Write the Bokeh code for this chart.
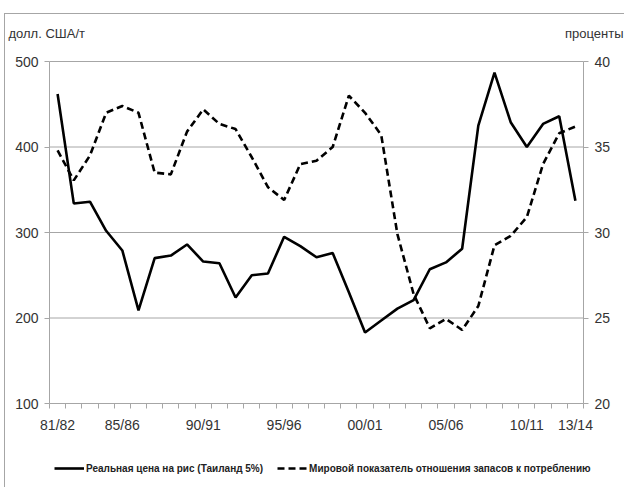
from bokeh.plotting import figure
from bokeh.models import Range1d, LinearAxis, FixedTicker, Label, Legend, LegendItem
from bokeh.embed import file_html
from bokeh.resources import INLINE

seasons = ["81/82", "82/83", "83/84", "84/85", "85/86", "86/87", "87/88", "88/89",
           "89/90", "90/91", "91/92", "92/93", "93/94", "94/95", "95/96", "96/97",
           "97/98", "98/99", "99/00", "00/01", "01/02", "02/03", "03/04", "04/05",
           "05/06", "06/07", "07/08", "08/09", "09/10", "10/11", "11/12", "12/13", "13/14"]
labelled = ["81/82", "85/86", "90/91", "95/96", "00/01", "05/06", "10/11", "13/14"]
price = [462, 334, 336, 302, 279, 209, 270, 273, 286, 266, 264, 224, 250, 252, 295, 284,
         271, 276, 230, 183, 197, 211, 221, 257, 265, 281, 425, 487, 429, 400, 427, 436, 337]
stocks = [34.8, 33.05, 34.5, 37.0, 37.4, 37.0, 33.5, 33.4, 35.9, 37.2, 36.35, 36.05, 34.4,
          32.65, 31.9, 34.0, 34.2, 35.0, 38.0, 37.0, 35.7, 29.9, 26.4, 24.4, 24.95, 24.3,
          25.7, 29.25, 29.8, 30.9, 34.0, 35.8, 36.2]
left_ticks = [100, 200, 300, 400, 500]
right_ticks = [20, 25, 30, 35, 40]
name_price = "Реальная цена на рис (Таиланд 5%)"
name_stocks = "Мировой показатель отношения запасов к потреблению"
unit_left = "долл. США/т"
unit_right = "проценты"

FONT = "Liberation Sans"
GRAY = "#a6a6a6"
TXT = "#333333"

# canvas geometry (pixels) and plot box inside the canvas
W, H = 620, 474
BOX_L, BOX_R, BOX_T, BOX_B = 44, 578, 47, 389

n = len(seasons)
xs = list(range(n))
x0, x1 = -0.5, n - 0.5
ppx = (BOX_R - BOX_L) / (x1 - x0)
y0, y1 = left_ticks[0], left_ticks[-1]
ppy = (BOX_B - BOX_T) / (y1 - y0)
r0, r1 = right_ticks[0], right_ticks[-1]
ppr = (BOX_B - BOX_T) / (r1 - r0)

p = figure(width=W, height=H, output_backend="svg", toolbar_location=None,
           x_range=Range1d(x0 - BOX_L / ppx, x1 + (W - BOX_R) / ppx),
           y_range=Range1d(y0 - (H - BOX_B) / ppy, y1 + BOX_T / ppy),
           min_border_left=0, min_border_right=0, min_border_top=0, min_border_bottom=0)
p.styles = {"margin-left": "4px", "margin-top": "13px",
            "border-left": "1px solid #a6a6a6", "border-top": "1px solid #a6a6a6"}
p.outline_line_color = None
p.background_fill_color = "white"
p.border_fill_color = "white"
p.extra_y_ranges = {"pct": Range1d(r0 - (H - BOX_B) / ppr, r1 + BOX_T / ppr)}
p.xgrid.visible = False
p.ygrid.visible = False

# horizontal gridlines at the left-axis ticks, across the plot box
p.segment(x0=[x0] * (len(left_ticks) - 1), x1=[x1] * (len(left_ticks) - 1),
          y0=left_ticks[1:], y1=left_ticks[1:], line_color=GRAY, line_width=1,
          level="underlay")

# x axis: labels at selected seasons, minor ticks at category boundaries
idx = [seasons.index(s) for s in labelled]
xa = p.xaxis[0]
xa.fixed_location = y0
xa.bounds = (x0, x1)
xa.ticker = FixedTicker(ticks=idx, minor_ticks=[i - 0.5 for i in range(n + 1)])
xa.major_label_overrides = {i: seasons[i] for i in idx}
xa.major_tick_out = 0
xa.major_tick_in = 0
xa.minor_tick_out = 5
xa.minor_tick_in = 0
xa.minor_tick_line_color = GRAY
xa.axis_line_color = GRAY
xa.major_label_standoff = 8
xa.major_label_text_font = FONT
xa.major_label_text_font_size = "14px"
xa.major_label_text_color = TXT

ya = p.yaxis[0]
ya.fixed_location = x0
ya.bounds = (y0, y1)
ya.ticker = FixedTicker(ticks=left_ticks)
ya.minor_tick_line_color = None
ya.major_tick_out = 5
ya.major_tick_in = 0
ya.major_tick_line_color = GRAY
ya.axis_line_color = GRAY
ya.major_label_standoff = 6
ya.major_label_text_font = FONT
ya.major_label_text_font_size = "14px"
ya.major_label_text_color = TXT

ra = LinearAxis(y_range_name="pct", ticker=FixedTicker(ticks=right_ticks),
                fixed_location=x1, bounds=(r0, r1))
ra.minor_tick_line_color = None
ra.major_tick_out = 5
ra.major_tick_in = 0
ra.major_tick_line_color = GRAY
ra.axis_line_color = GRAY
ra.major_label_standoff = 6
ra.major_label_text_font = FONT
ra.major_label_text_font_size = "14px"
ra.major_label_text_color = TXT
p.add_layout(ra, "right")

r_price = p.line(xs, price, line_color="black", line_width=2.6)
r_stocks = p.line(xs, stocks, y_range_name="pct", line_color="black", line_width=2.6,
                  line_dash="7 4")

p.add_layout(Label(x=x0, y=y1, x_offset=3 - BOX_L, y_offset=BOX_T - 19, text=unit_left,
                   text_font=FONT, text_font_size="13px", text_color=TXT,
                   text_baseline="middle", text_align="left"))
p.add_layout(Label(x=x1, y=y1, x_offset=W - 2 - BOX_R, y_offset=BOX_T - 19, text=unit_right,
                   text_font=FONT, text_font_size="13px", text_color=TXT,
                   text_baseline="middle", text_align="right"))

legend = Legend(items=[LegendItem(label=name_price, renderers=[r_price]),
                       LegendItem(label=name_stocks, renderers=[r_stocks])],
                orientation="horizontal", location=(49, 12),
                glyph_width=30, glyph_height=16, label_height=16,
                label_standoff=2, spacing=14, padding=0, margin=0,
                border_line_color=None, background_fill_alpha=0,
                label_text_font=FONT, label_text_font_size="10px",
                label_text_font_style="bold", label_text_color="#222222")
p.add_layout(legend, "center")

open("out.html", "w").write(file_html(p, INLINE))
